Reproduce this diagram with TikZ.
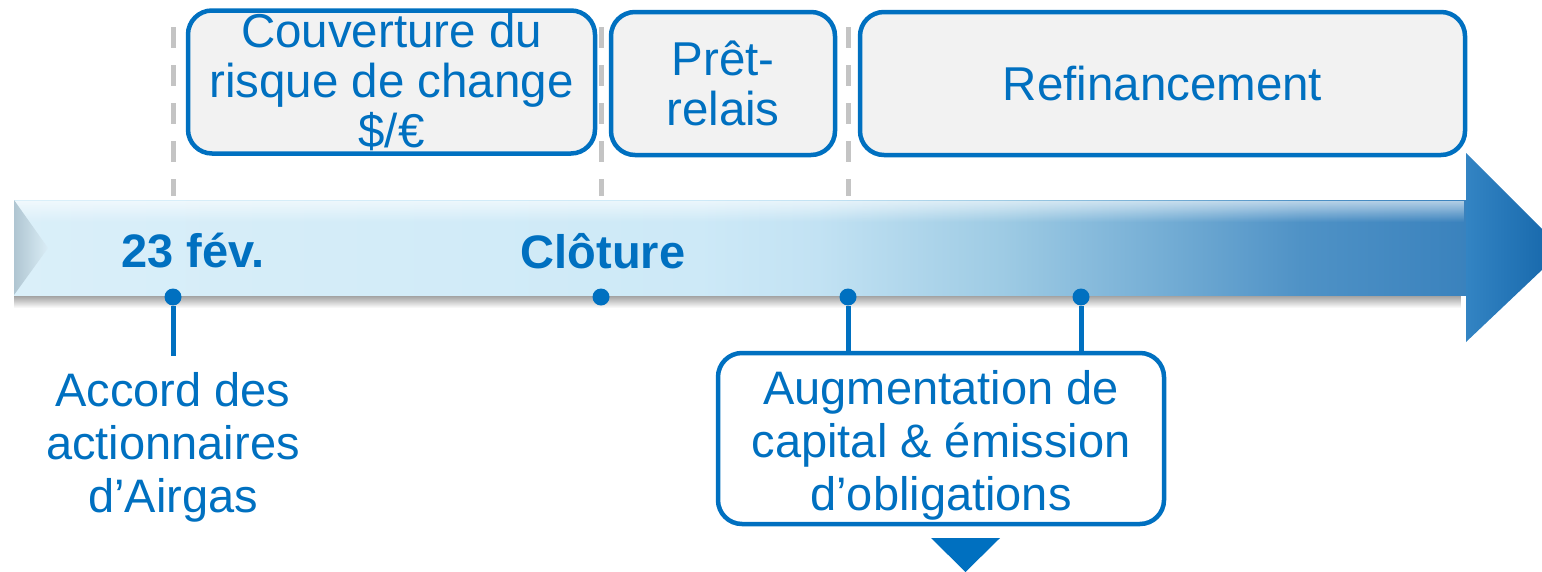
\documentclass[tikz,border=0pt]{standalone}
\usepackage{fontspec}
\setmainfont{Liberation Sans}
\usetikzlibrary{fadings}
\definecolor{bleu}{HTML}{0070C0}
\definecolor{gris}{HTML}{C4C4C4}
\definecolor{fond}{HTML}{F2F2F2}
\definecolor{c0}{HTML}{DAEFF9}
\definecolor{c1}{HTML}{CDE9F7}
\definecolor{c2}{HTML}{C2E2F3}
\definecolor{c3}{HTML}{9ECBE4}
\definecolor{c4}{HTML}{78B0D6}
\definecolor{c5}{HTML}{4F92C6}
\definecolor{c6}{HTML}{3A82BD}
\definecolor{pointeA}{HTML}{3384C3}
\definecolor{pointeB}{HTML}{1364A8}
\definecolor{biseauA}{HTML}{AFC5D1}
\definecolor{biseauB}{HTML}{DAEDF6}
\pgfdeclarehorizontalshading{fleche}{100bp}{color(0bp)=(c0); color(25bp)=(c0); color(48.6bp)=(c1); color(52.7bp)=(c2); color(59bp)=(c3); color(64.1bp)=(c4); color(69.3bp)=(c5); color(75bp)=(c6); color(100bp)=(c6)}
\tikzfading[name=reflet, top color=transparent!0, bottom color=transparent!100]
\tikzstyle{etape}=[draw=bleu,line width=4.5pt,rounded corners=24pt,fill=fond,text=bleu,align=center,inner sep=0pt,minimum height=143pt,font=\fontsize{47.5}{50}\selectfont]
\tikzstyle{point}=[circle,fill=bleu,minimum size=17pt,inner sep=0pt]
\tikzstyle{tige}=[draw,bleu,line width=5pt]
\tikzstyle{repere}=[draw,gris,line width=5pt,dash pattern=on 21pt off 17pt]
\tikzstyle{date}=[text=bleu,font=\bfseries\fontsize{47}{53}\selectfont]
\tikzstyle{legende}=[text=bleu,align=center,inner sep=16pt,font=\fontsize{47}{53}\selectfont]

\begin{document}
\begin{tikzpicture}[x=1pt,y=-1pt]
    \clip (0,0) rectangle (1542,571);
    % reperes
    \foreach \x in {173, 601, 848}
        \path[repere] (\x,27) -- (\x,196);
    % fleche
    \fill[black!45,path fading=reflet] (16,293) rectangle (1466,308);
    \shade[shading=fleche] (14,200) rectangle (1466,295);
    \fill[white,path fading=reflet,opacity=.6] (14,201) rectangle (1466,222);
    \shade[left color=biseauA,right color=biseauB] (14,200) -- (48,248) -- (14,295) -- cycle;
    \shade[left color=pointeA,right color=pointeB] (1466,153) -- (1563,250) -- (1466,342) -- cycle;
    % etapes
    \node[etape,minimum width=407pt] (couverture) at (391.5,82) {Couverture du\\risque de change\\\$/€};
    \node[etape,minimum width=224pt] (pret) at (723,83.5) {Prêt-\\relais};
    \node[etape,minimum width=605pt] (refi) at (1162.5,83.5) {Refinancement};
    \node[etape,fill=white,minimum width=446pt,minimum height=171pt,font=\fontsize{47}{53}\selectfont] (augm) at (941,438.5) {\rule{0pt}{47pt}Augmentation de\\capital \& émission\\d’obligations};
    \node[legende] (accord) at (173,447) {Accord des\\actionnaires\\d’Airgas};
    % dates
    \node[date] (fev) at (193,251) {23 fév.};
    \node[date] (cloture) at (603,251) {Clôture};
    % points
    \foreach \pos/\name in {{(173,297)/p1}, {(601,297)/p2}, {(848,297)/p3}, {(1081,297)/p4}}
        \node[point] (\name) at \pos {};
    \path[tige] (p1) -- (p1 |- accord.north);
    \foreach \name in {p3, p4}
        \path[tige] (\name) -- (\name |- augm.north);
    \fill[bleu] (931,538) -- (1000,538) -- (965.5,572) -- cycle;
\end{tikzpicture}
\end{document}
